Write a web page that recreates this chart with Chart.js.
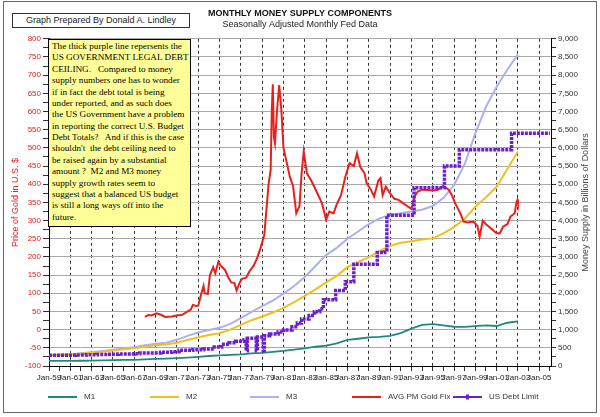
<!DOCTYPE html>
<html>
<head>
<meta charset="utf-8">
<script src="https://cdn.jsdelivr.net/npm/chart.js@4"></script>
<style>
  html, body { margin: 0; padding: 0; background: #fff; }
  #wrap { position: relative; width: 600px; height: 417px; overflow: hidden; }
  #frame { position: absolute; left: 3px; top: 1px; width: 594px; height: 412px; border: 1px solid #6a6a6a; box-sizing: border-box; pointer-events: none; }
  #credit { position: absolute; left: 12px; top: 13px; width: 178px; height: 15px; border: 1px solid #333; box-sizing: border-box;
            font: 9px 'Liberation Sans', Arial, sans-serif; color: #222; text-align: center; line-height: 13px; background: #fff; }
  #note { position: absolute; left: 48px; top: 39px; width: 143px; height: 188px; box-sizing: border-box; border: 1px solid #000;
          background: #ffff99; font: 9.2px 'Liberation Serif', 'Times New Roman', serif; line-height: 11.37px; color: #000;
          padding: 1px 0 0 3px; white-space: pre; overflow: hidden; }
</style>
</head>
<body>
<div id="wrap">
  <canvas id="chart" width="600" height="417"></canvas>
  <div id="credit">Graph Prepared By Donald A.  Lindley</div>
  <div id="note">The thick purple line repersents the
US GOVERNMENT LEGAL DEBT
CEILING.   Compared to money
supply numbers one has to wonder
if in fact the debt total is being
under reported, and as such does
the US Government have a problem
in reporting the correct U.S. Budget
Debt Totals?   And if this is the case
shouldn't  the debt ceiling need to
be raised again by a substantial
amount ?  M2 and M3 money
supply growth rates seem to
suggest that a balanced US budget
is still a long ways off into the
future.</div>
  <div id="frame"></div>
</div>
<script>
// x axis labels (every two years) and their positions
const tickYears = [1959, 1961, 1963, 1965, 1967, 1969, 1971, 1973, 1975, 1977, 1979, 1981,
                   1983, 1985, 1987, 1989, 1991, 1993, 1995, 1997, 1999, 2001, 2003, 2005];
const tickLabels = ['Jan-59', 'Jan-61', 'Jan-63', 'Jan-65', 'Jan-67', 'Jan-69', 'Jan-71', 'Jan-73',
                    'Jan-75', 'Jan-77', 'Jan-79', 'Jan-81', 'Jan-83', 'Jan-85', 'Jan-87', 'Jan-89',
                    'Jan-91', 'Jan-93', 'Jan-95', 'Jan-97', 'Jan-99', 'Jan-01', 'Jan-03', 'Jan-05'];

// money supply, billions of dollars (January of each year)
const moneyYears = [1959, 1960, 1961, 1962, 1963, 1964, 1965, 1966, 1967, 1968, 1969, 1970, 1971, 1972, 1973,
                    1974, 1975, 1976, 1977, 1978, 1979, 1980, 1981, 1982, 1983, 1984, 1985, 1986, 1987, 1988,
                    1989, 1990, 1991, 1992, 1993, 1994, 1995, 1996, 1997, 1998, 1999, 2000, 2001, 2002, 2003];
const m1 = [140, 140, 141, 145, 148, 153, 160, 168, 171, 183, 198, 205, 216, 232, 252,
            275, 295, 308, 322, 345, 362, 390, 415, 450, 485, 530, 560, 625, 720, 750,
            785, 800, 830, 905, 1030, 1130, 1150, 1120, 1080, 1075, 1095, 1120, 1100, 1190, 1225];
const m2 = [290, 300, 315, 335, 365, 395, 425, 460, 485, 530, 570, 590, 640, 715, 790,
            850, 900, 1000, 1130, 1260, 1360, 1470, 1600, 1760, 1930, 2110, 2300, 2480, 2720, 2860,
            2990, 3160, 3300, 3390, 3430, 3480, 3510, 3650, 3820, 4050, 4380, 4640, 4930, 5420, 5900];
const m3 = [300, 310, 325, 350, 380, 410, 445, 485, 515, 570, 610, 640, 720, 830, 920,
            990, 1050, 1160, 1320, 1490, 1650, 1800, 1990, 2200, 2450, 2750, 3050, 3250, 3500, 3700,
            3900, 4060, 4150, 4200, 4250, 4300, 4400, 4620, 4980, 5550, 6400, 7130, 7680, 8150, 8570];

// avg PM gold fix, dollars
const goldDates = [1968.0, 1968.3, 1968.6, 1969.1, 1969.5, 1969.9, 1970.5, 1971.0, 1971.5, 1971.9, 1972.3, 1972.5,
                   1972.8, 1973.0, 1973.3, 1973.5, 1973.6, 1973.9, 1974.1, 1974.4, 1974.6, 1974.9, 1975.1, 1975.5,
                   1975.8, 1976.1, 1976.4, 1976.6, 1976.9, 1977.1, 1977.5, 1977.8, 1978.2, 1978.5, 1978.8, 1979.0,
                   1979.2, 1979.4, 1979.6, 1979.8, 1979.9, 1980.0, 1980.1, 1980.2, 1980.4, 1980.6, 1980.8, 1981.0,
                   1981.3, 1981.6, 1981.9, 1982.2, 1982.5, 1982.7, 1982.9, 1983.2, 1983.6, 1984.1, 1984.6, 1985.0,
                   1985.3, 1985.7, 1986.0, 1986.4, 1986.8, 1987.2, 1987.6, 1987.9, 1988.2, 1988.6, 1988.8, 1989.2,
                   1989.5, 1989.9, 1990.1, 1990.3, 1990.6, 1991.0, 1991.4, 1991.8, 1992.2, 1992.7, 1993.0, 1993.3,
                   1993.6, 1994.0, 1994.5, 1995.0, 1995.5, 1996.0, 1996.5, 1996.8, 1997.1, 1997.6, 1997.9, 1998.3,
                   1998.8, 1999.2, 1999.4, 1999.7, 2000.0, 2000.4, 2000.8, 2001.0, 2001.3, 2001.6, 2002.0, 2002.3,
                   2002.7, 2002.85, 2002.95, 2003.0];
const goldPrices = [35, 40, 39, 45, 41, 35, 36, 39, 41, 48, 55, 68,
                    65, 66, 100, 120, 100, 98, 150, 172, 155, 187, 176, 165,
                    145, 130, 128, 108, 130, 140, 143, 160, 176, 195, 220, 240,
                    260, 330, 400, 440, 600, 675, 531, 513, 604, 673, 604, 500,
                    460, 420, 395, 320, 340, 430, 490, 430, 410, 380, 348, 302,
                    325, 320, 345, 370, 420, 458, 450, 485, 448, 430, 403, 385,
                    366, 410, 417, 370, 393, 375, 360, 357, 348, 338, 332, 366,
                    380, 385, 384, 383, 385, 395, 385, 370, 348, 320, 297, 295,
                    297, 285, 256, 300, 290, 280, 270, 265, 265, 283, 290, 311,
                    320, 350, 357, 350];

// statutory debt limit, billions of dollars (date each level took effect)
const debtDates = [1959.0, 1961.5, 1962.5, 1963.5, 1964.5, 1965.5, 1967.0, 1967.5, 1969.5, 1970.5, 1971.2, 1972.5,
                   1973.5, 1974.5, 1975.2, 1975.9, 1976.5, 1977.3, 1977.5, 1977.6, 1978.45, 1978.55, 1979.1, 1979.2,
                   1979.7, 1980.5, 1981.0, 1981.8, 1982.3, 1982.7, 1983.4, 1983.9, 1984.4, 1984.75, 1985.9, 1986.8,
                   1987.6, 1989.8, 1990.5, 1990.7, 1993.25, 1996.1, 1997.5, 2002.4, 2006.0];
const debtLimit = [295, 300, 308, 315, 324, 328, 336, 358, 377, 395, 430, 450,
                   465, 520, 600, 640, 680, 720, 420, 760, 420, 800, 420, 830,
                   880, 935, 990, 1080, 1180, 1290, 1390, 1490, 1573, 1824, 2079, 2320,
                   2800, 3123, 3195, 4145, 4900, 5500, 5950, 6400, 6400];

const points = (xs, ys) => xs.map((x, i) => ({x: x, y: ys[i]}));

const legendX = [48, 150, 250, 352, 453];

const overlay = {
    id: 'overlay',
    afterDraw(chart) {
        const ctx = chart.ctx;
        ctx.save();
        ctx.font = "8px 'Liberation Sans', Arial, sans-serif";
        ctx.textBaseline = 'middle';
        chart.data.datasets.forEach((ds, i) => {
            const x = legendX[i];
            const y = 397;
            ctx.strokeStyle = ds.borderColor;
            ctx.lineWidth = 2;
            ctx.beginPath();
            ctx.moveTo(x, y);
            ctx.lineTo(x + 29, y);
            ctx.stroke();
            if (ds.stepped) {
                ctx.fillStyle = ds.borderColor;
                ctx.fillRect(x + 13, y - 2.5, 3, 5);
            }
            ctx.fillStyle = '#333';
            ctx.fillText(ds.label, x + 36, y);
        });
        // right axis title, reads bottom to top
        const area = chart.chartArea;
        ctx.translate(586, (area.top + area.bottom) / 2);
        ctx.rotate(-Math.PI / 2);
        ctx.textAlign = 'center';
        ctx.font = "9px 'Liberation Sans', Arial, sans-serif";
        ctx.fillStyle = '#444';
        ctx.fillText('Money Supply in Billions of Dollars', 0, 0);
        ctx.restore();
    }
};

Chart.defaults.font.family = "'Liberation Sans', Arial, sans-serif";

new Chart(document.getElementById('chart'), {
    type: 'line',
    data: {
        datasets: [
            {label: 'M1', data: points(moneyYears, m1), borderColor: '#1f8a7c', borderWidth: 1.8, yAxisID: 'yMoney', order: 2},
            {label: 'M2', data: points(moneyYears, m2), borderColor: '#f2c01e', borderWidth: 2, yAxisID: 'yMoney', order: 3},
            {label: 'M3', data: points(moneyYears, m3), borderColor: '#aab0f2', borderWidth: 2, yAxisID: 'yMoney', order: 4},
            {label: 'AVG PM Gold Fix', data: points(goldDates, goldPrices), borderColor: '#e8201c', borderWidth: 2, yAxisID: 'yGold', order: 1},
            {label: 'US Debt Limit', data: points(debtDates, debtLimit), borderColor: '#6a1fd0', borderWidth: 3.5,
             borderDash: [3, 1], stepped: true, yAxisID: 'yMoney', order: 0}
        ]
    },
    options: {
        responsive: false,
        animation: false,
        elements: {point: {radius: 0}, line: {tension: 0}},
        layout: {padding: {top: 6, left: 5, right: 5, bottom: 31}},
        plugins: {
            legend: {display: false},
            tooltip: {enabled: false},
            title: {
                display: true,
                text: 'MONTHLY MONEY SUPPLY COMPONENTS',
                color: '#111',
                font: {size: 9, weight: 'bold'},
                padding: {top: 2.6, bottom: 0}
            },
            subtitle: {
                display: true,
                text: 'Seasonally Adjusted Monthly Fed Data',
                color: '#222',
                font: {size: 9},
                padding: {top: 0, bottom: 8.6}
            }
        },
        scales: {
            x: {
                type: 'linear',
                min: 1959,
                max: 2006.1,
                afterBuildTicks: axis => {
                    axis.ticks = [];
                    tickYears.forEach(y => {
                        axis.ticks.push({value: y});
                        axis.ticks.push({value: y + 1});
                    });
                },
                afterFit: axis => { axis.height = 20; },
                ticks: {
                    autoSkip: false,
                    maxRotation: 0,
                    padding: 2,
                    color: '#222',
                    font: {size: 8},
                    callback: v => {
                        const i = tickYears.indexOf(v);
                        return i < 0 ? '' : tickLabels[i];
                    }
                },
                grid: {
                    color: c => tickYears.includes(c.tick.value) ? '#333' : 'transparent',
                    tickColor: '#333',
                    tickLength: 5
                },
                border: {color: '#000', dash: [3, 3]}
            },
            yGold: {
                position: 'left',
                min: -100,
                max: 800,
                afterFit: axis => { axis.width = 44; },
                ticks: {
                    stepSize: 25,
                    autoSkip: false,
                    padding: 2,
                    color: '#e0201c',
                    font: {size: 8},
                    callback: v => v % 50 === 0 ? v : ''
                },
                grid: {
                    color: c => c.tick.value % 50 === 0 ? '#a8a8a8' : 'transparent',
                    tickColor: '#333',
                    tickLength: 6
                },
                border: {color: '#000'},
                title: {
                    display: true,
                    text: 'Price of Gold in U.S. $',
                    color: '#e0201c',
                    font: {size: 9},
                    padding: {top: 5, bottom: 0}
                }
            },
            yMoney: {
                position: 'right',
                min: 0,
                max: 9000,
                afterFit: axis => { axis.width = 44; },
                ticks: {
                    stepSize: 250,
                    autoSkip: false,
                    padding: 2,
                    color: '#333',
                    font: {size: 8},
                    callback: v => v % 500 === 0 ? v.toLocaleString('en-US') : ''
                },
                grid: {drawOnChartArea: false, tickColor: '#333', tickLength: 5},
                border: {color: '#000'}
            }
        }
    },
    plugins: [overlay]
});
</script>
</body>
</html>
